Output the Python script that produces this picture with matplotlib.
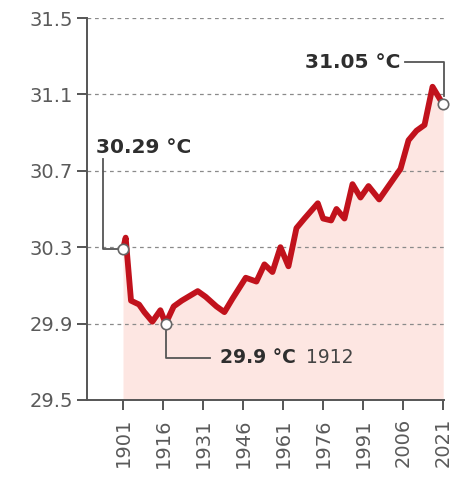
import numpy as np
import matplotlib
matplotlib.use("Agg")
from matplotlib import pyplot as plt

# annual mean temperature
years = [1901, 1902, 1904, 1907, 1909, 1912, 1915, 1917, 1920, 1923, 1929, 1932,
         1936, 1939, 1942, 1947, 1951, 1954, 1957, 1960, 1963, 1966, 1969, 1974,
         1976, 1979, 1981, 1984, 1987, 1990, 1993, 1997, 2000, 2005, 2008, 2011,
         2014, 2017, 2020, 2021]
temps = [30.29, 30.35, 30.02, 30.00, 29.96, 29.91, 29.97, 29.90, 29.99, 30.02, 30.07, 30.04,
         29.99, 29.96, 30.03, 30.14, 30.12, 30.21, 30.17, 30.30, 30.20, 30.40, 30.45, 30.53,
         30.45, 30.44, 30.50, 30.45, 30.63, 30.56, 30.62, 30.55, 30.61, 30.71, 30.86, 30.91,
         30.94, 31.14, 31.07, 31.05]

yticks = [29.5, 29.9, 30.3, 30.7, 31.1, 31.5]
xticks = [1901, 1916, 1931, 1946, 1961, 1976, 1991, 2006, 2021]

start_label = "30.29 °C"
end_label = "31.05 °C"
low_label = "29.9 °C"
low_year = "1912"
low_x, low_y = 1917, 29.90

red = "#c1121c"
grey = "#555555"

fig = plt.figure(figsize=(4.54, 4.80), dpi=100)
ax = fig.add_axes([0.1916, 0.1667, 0.978 - 0.1916, 0.9625 - 0.1667])

ax.fill_between(years, temps, 29.5, color="#fde6e2", lw=0, zorder=1)
ax.plot(years, temps, color=red, lw=4.2, solid_joinstyle="round",
        solid_capstyle="round", zorder=3)

ax.set_xlim(1887.5, 2021.3)
ax.set_ylim(29.5, 31.5)
ax.set_yticks(yticks)
ax.set_yticklabels([f"{t:g}" for t in yticks])
ax.set_xticks(xticks)
ax.set_xticklabels([str(y) for y in xticks], rotation=90)

for t in yticks[1:]:
    ax.axhline(t, xmin=0.0, xmax=1.0, color="#8a8a8a", lw=0.9, ls=(0, (3, 3)), zorder=2)

for s in ["top", "right"]:
    ax.spines[s].set_visible(False)
for s in ["left", "bottom"]:
    ax.spines[s].set_color(grey)
    ax.spines[s].set_linewidth(1.4)

ax.tick_params(axis="both", colors=grey, labelcolor="#5a5a5a", labelsize=14,
               width=1.4, length=7)
ax.tick_params(axis="y", pad=3)
ax.tick_params(axis="x", pad=6)

# end point markers
mk = dict(marker="o", ms=7.5, mfc="white", mec="#666666", mew=1.2, zorder=5, clip_on=False)
ax.plot(years[0], temps[0], **mk)
ax.plot(years[-1], temps[-1], **mk)
ax.plot(low_x, low_y, **mk)

# callout connectors
ax.plot([1893.5, 1893.5, 1899.5], [30.76, 30.29, 30.29], color=grey, lw=1.3, zorder=4)
ax.plot([2006.8, 2021.3, 2021.3], [31.27, 31.27, 31.09], color=grey, lw=1.3,
        zorder=4, clip_on=False)
ax.plot([low_x, low_x, 1933.5], [29.87, 29.72, 29.72], color=grey, lw=1.3, zorder=4)

ax.text(1890.8, 30.82, start_label, fontsize=14.5, fontweight="bold", color="#2e2e2e",
        va="center", ha="left")
ax.text(2004.8, 31.265, end_label, fontsize=14.5, fontweight="bold", color="#2e2e2e",
        va="center", ha="right")
ax.text(1937.5, 29.72, low_label, fontsize=13.5, fontweight="bold", color="#2e2e2e",
        va="center", ha="left")
ax.text(1969.5, 29.72, low_year, fontsize=13.5, color="#444444", va="center", ha="left")

fig.savefig("out.png", dpi=100)
